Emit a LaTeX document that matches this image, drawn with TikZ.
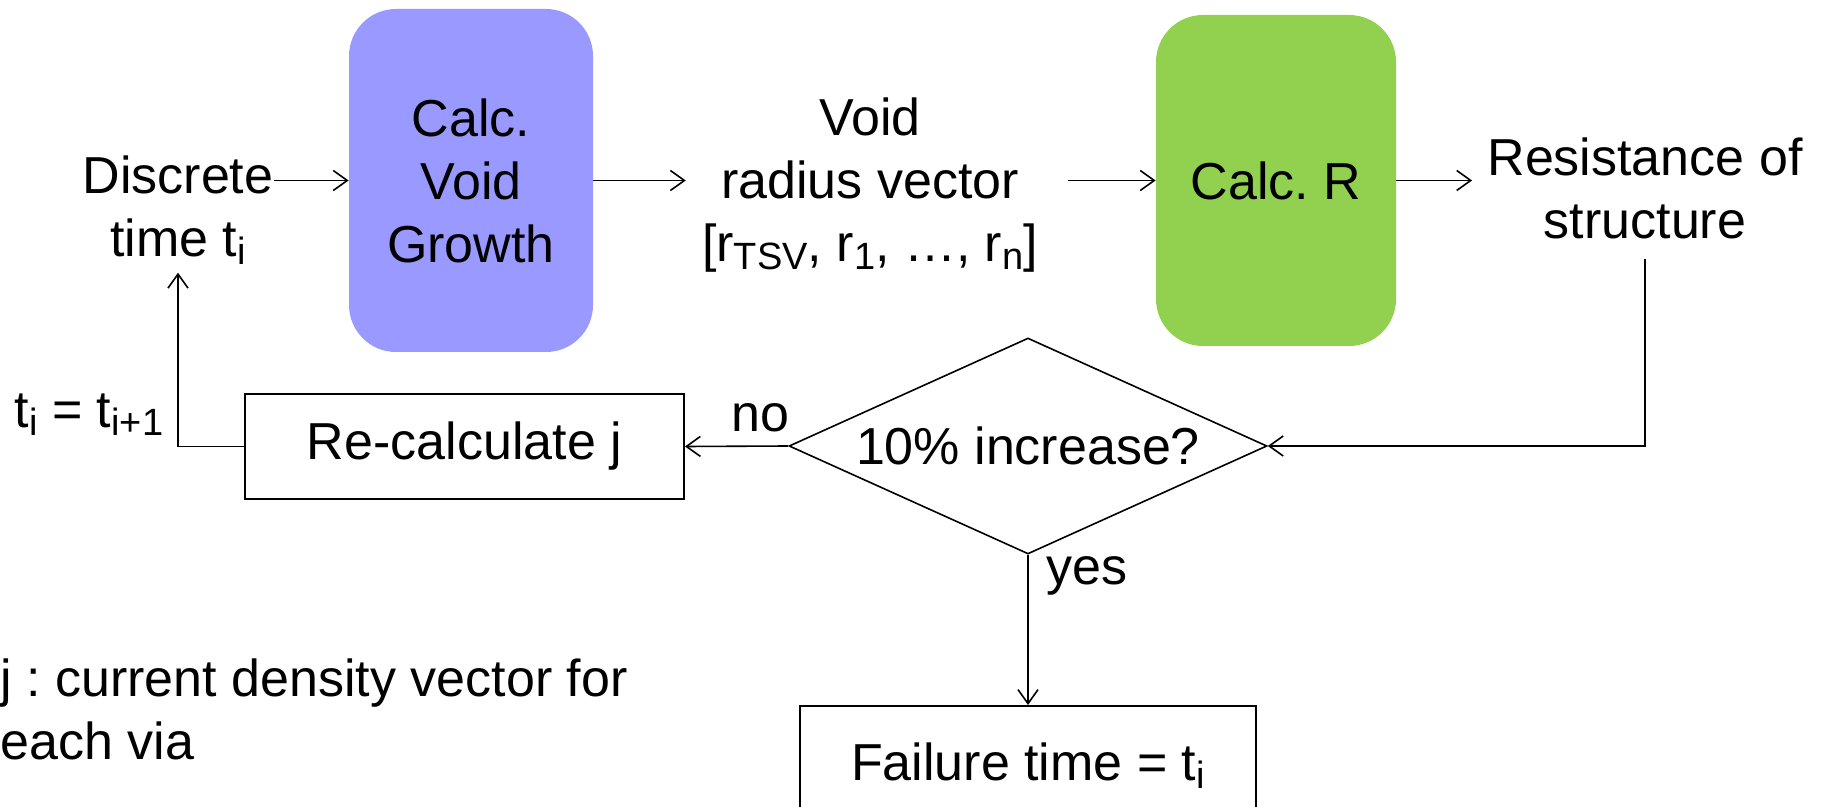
\documentclass[tikz,border=0pt]{standalone}
\usepackage{fontspec}
\setmainfont{Liberation Sans}
\usetikzlibrary{shapes.geometric,arrows.meta}
\definecolor{voidblue}{HTML}{9999FF}
\definecolor{rgreen}{HTML}{92D050}
\newcommand\sbx[1]{\raisebox{-4pt}{\fontsize{19pt}{19pt}\selectfont #1}}
\frenchspacing
\begin{document}
\begin{tikzpicture}[x=0.5pt,y=-0.5pt,
  every node/.style={font=\fontsize{26pt}{31.5pt}\selectfont},
  txt/.style={align=center, inner sep=0pt},
  arr/.style={-{Straight Barb[length=7pt,width=10pt]}, line width=0.8pt},
  calcbox/.style={rounded corners=23.5pt, inner sep=0pt, align=center},
  plainbox/.style={draw, line width=1pt, inner sep=0pt},
  decision/.style={draw, diamond, aspect=2.21, inner sep=0pt, line width=0.8pt, minimum width=239pt, minimum height=108pt}]
\useasboundingbox (0,0) rectangle (1829,807);

\node[txt, inner ysep=4pt] (disc) at (178,210) {Discrete\\time t\sbx{i}};
\node[calcbox, fill=voidblue, minimum width=122pt, minimum height=171.5pt] (blue) at (471,180.5) {Calc.\\Void\\Growth};
\node[txt, inner xsep=8pt] (vec) at (870,185) {Void\\radius vector\\{[}r\sbx{TSV}, r\sbx{1}, …, r\sbx{n}{]}};
\node[calcbox, fill=rgreen, minimum width=120pt, minimum height=165.5pt] (green) at (1276,180.5) {Calc. R};
\node[txt, inner xsep=7.5pt, inner ysep=10pt] (res) at (1645,188) {Resistance of\\structure};
\node[decision] (dia) at (1028,446) {10\% increase?};
\node[plainbox, minimum width=219.5pt, minimum height=52.5pt] (recalc) at (464.5,446.5) {Re-calculate j};
\node[plainbox, minimum width=228pt, minimum height=60pt] (fail) at (1028,766) {Failure time = t\sbx{i}};
\node[txt] (tupd) at (89,415) {t\sbx{i} = t\sbx{i+1}};
\node[txt] (no) at (760,418) {no};
\node[txt, anchor=west] (yes) at (1046,576) {yes};
\node[txt, align=left, anchor=west] (note) at (0,709) {j : current density vector for\\each via};

\coordinate (vecout) at ([xshift=7pt]vec.east);
\draw[arr] (disc.east |- blue.west) -- (blue.west);
\draw[arr] (blue.east) -- (vec.west |- blue.east);
\draw[arr] (vecout |- green.west) -- (green.west);
\draw[arr] (green.east) -- (res.west |- green.east);
\draw[arr] (res.south) |- (dia.east);
\draw[arr] (dia.west) -- (recalc.east);
\draw[arr] (recalc.west) -| (disc.south);
\draw[arr] (dia.south) -- (fail.north);
\end{tikzpicture}
\end{document}
